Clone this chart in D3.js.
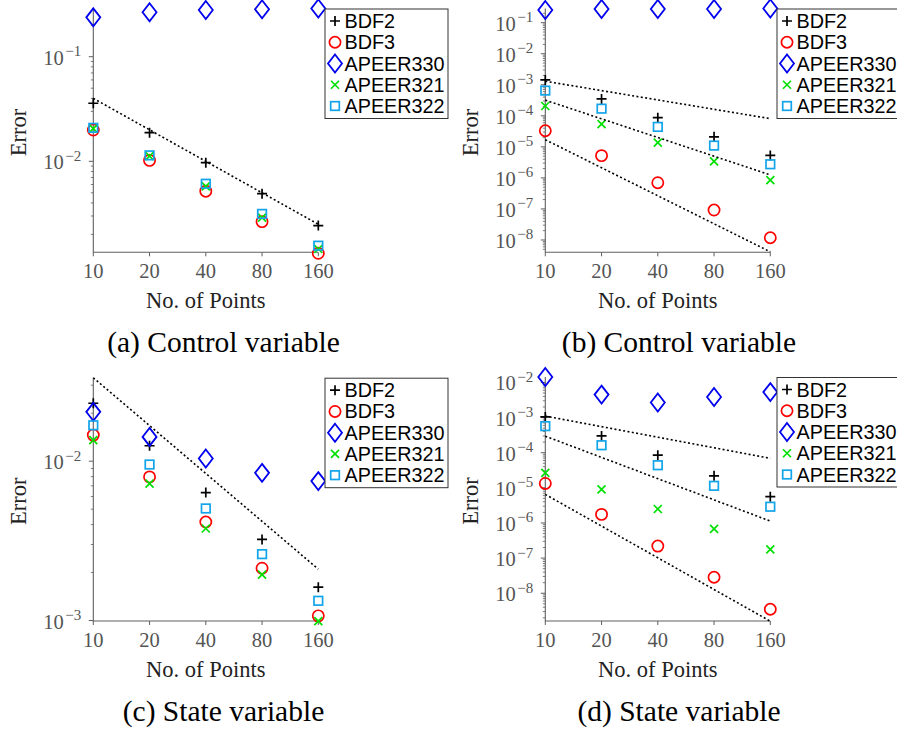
<!DOCTYPE html>
<html>
<head>
<meta charset="utf-8">
<script src="https://cdn.jsdelivr.net/npm/d3@7"></script>
<style>
  html, body { margin: 0; padding: 0; background: #fff; }
  svg { display: block; }
</style>
</head>
<body>
<svg id="chart" width="897" height="735"></svg>
<script>
// Number of grid points (shared x values)
const points = [10, 20, 40, 80, 160];
const xTickLabels = ["10", "20", "40", "80", "160"];
const seriesNames = ["BDF2", "BDF3", "APEER330", "APEER321", "APEER322"];

// (a) Control variable
const aBDF2     = [0.0359, 0.0188, 0.0097, 0.0049, 0.00243];
const aBDF3     = [0.0199, 0.0102, 0.00518, 0.00265, 0.00132];
const aAPEER330 = [0.238, 0.266, 0.28, 0.284, 0.289];
const aAPEER321 = [0.0205, 0.0112, 0.00575, 0.0029, 0.00145];
const aAPEER322 = [0.0209, 0.0114, 0.0061, 0.00314, 0.00156];
const aSlopes   = [[0.040, 0.0025]];            // error at N=10 and N=160

// (b) Control variable
const bBDF2     = [1.43e-3, 3.5e-4, 8.7e-5, 2.1e-5, 5.3e-6];
const bBDF3     = [3.3e-5, 5.2e-6, 7.0e-7, 9.2e-8, 1.18e-8];
const bAPEER330 = [0.257, 0.276, 0.276, 0.276, 0.286];
const bAPEER321 = [2.07e-4, 5.4e-5, 1.36e-5, 3.4e-6, 8.5e-7];
const bAPEER322 = [6.5e-4, 1.7e-4, 4.4e-5, 1.1e-5, 2.75e-6];
const bSlopes   = [[1.3e-3, 8.1e-5], [3.2e-4, 1.25e-6], [1.7e-5, 4.15e-9]];

// (c) State variable
const cBDF2     = [0.0231, 0.0125, 0.00635, 0.00323, 0.00162];
const cBDF3     = [0.01458, 0.00797, 0.00415, 0.00213, 0.00107];
const cAPEER330 = [0.0204, 0.0142, 0.0104, 0.00845, 0.0075];
const cAPEER321 = [0.01355, 0.00724, 0.00378, 0.00194, 0.00099];
const cAPEER322 = [0.0168, 0.00953, 0.00505, 0.00261, 0.00133];
const cSlopes   = [[0.0334, 0.0021]];

// (d) State variable
const dBDF2     = [1.04e-3, 3.0e-4, 8.5e-5, 2.2e-5, 5.6e-6];
const dBDF3     = [1.33e-5, 1.75e-6, 2.2e-7, 2.85e-8, 3.5e-9];
const dAPEER330 = [0.01426, 4.5e-3, 2.67e-3, 3.85e-3, 5.3e-3];
const dAPEER321 = [2.67e-5, 9.0e-6, 2.5e-6, 6.8e-7, 1.78e-7];
const dAPEER322 = [5.7e-4, 1.63e-4, 4.4e-5, 1.14e-5, 2.9e-6];
const dSlopes   = [[1.1e-3, 6.9e-5], [2.95e-4, 1.13e-6], [6.5e-6, 1.6e-9]];

const captions = ["(a) Control variable", "(b) Control variable", "(c) State variable", "(d) State variable"];

// Panel frames (pixel layout) and log-axis extents (log10 of ymin, ymax)
const panels = [
  { series: [aBDF2, aBDF3, aAPEER330, aAPEER321, aAPEER322], slopes: aSlopes,
    left: 93.3, top: 8.5, bottom: 252.3, logMin: -2.870, logMax: -0.539, capX: 223.5, capY: 352 },
  { series: [bBDF2, bBDF3, bAPEER330, bAPEER321, bAPEER322], slopes: bSlopes,
    left: 545.3, top: 8.5, bottom: 252.3, logMin: -8.397, logMax: -0.543, capX: 679, capY: 352 },
  { series: [cBDF2, cBDF3, cAPEER330, cAPEER321, cAPEER322], slopes: cSlopes,
    left: 93.3, top: 377.7, bottom: 621, logMin: -3.003, logMax: -1.476, capX: 223.5, capY: 720.7 },
  { series: [dBDF2, dBDF3, dAPEER330, dAPEER321, dAPEER322], slopes: dSlopes,
    left: 545.3, top: 377, bottom: 621, logMin: -8.79, logMax: -1.846, capX: 679, capY: 720.7 }
];
const plotWidth = 225;

const colors = { BDF2: "#000000", BDF3: "#ff0000", APEER330: "#0000ee", APEER321: "#00e000", APEER322: "#12a4ea" };
const serif = "'Liberation Serif', 'DejaVu Serif', serif";
const sans  = "'Liberation Sans', Arial, sans-serif";
const axisGray = "#606060";

// Marker painters, centred on (0,0)
function drawMarker(g, name) {
  const c = colors[name];
  if (name === "BDF2") {
    g.append("path").attr("d", "M-5,0H5M0,-5V5").attr("stroke", c).attr("stroke-width", 1.7).attr("fill", "none");
  } else if (name === "BDF3") {
    g.append("circle").attr("r", 5.6).attr("stroke", c).attr("stroke-width", 1.7).attr("fill", "none");
  } else if (name === "APEER330") {
    g.append("path").attr("d", "M0,-9L7,0L0,9L-7,0Z").attr("stroke", c).attr("stroke-width", 1.8).attr("fill", "none");
  } else if (name === "APEER321") {
    g.append("path").attr("d", "M-4,-4L4,4M-4,4L4,-4").attr("stroke", c).attr("stroke-width", 1.7).attr("fill", "none");
  } else {
    g.append("rect").attr("x", -4.3).attr("y", -4.3).attr("width", 8.6).attr("height", 8.6)
      .attr("stroke", c).attr("stroke-width", 1.7).attr("fill", "none");
  }
}

const svg = d3.select("#chart");

panels.forEach((p, i) => {
  const x = d3.scaleLog().domain([points[0], points[points.length - 1]]).range([p.left, p.left + plotWidth]);
  const y = d3.scaleLog().domain([Math.pow(10, p.logMin), Math.pow(10, p.logMax)]).range([p.bottom, p.top]);
  const g = svg.append("g");

  // y ticks: decades and minor 2..9 ticks
  const decades = d3.range(Math.ceil(p.logMin), Math.floor(p.logMax) + 1);
  const minor = [];
  d3.range(Math.floor(p.logMin), Math.ceil(p.logMax) + 1).forEach(e => {
    for (let k = 2; k <= 9; k++) {
      const v = k * Math.pow(10, e);
      if (Math.log10(v) >= p.logMin && Math.log10(v) <= p.logMax) minor.push(v);
    }
  });
  g.selectAll(".minor").data(minor).join("line")
    .attr("x1", p.left - 2.5).attr("x2", p.left)
    .attr("y1", d => y(d)).attr("y2", d => y(d))
    .attr("stroke", axisGray).attr("stroke-width", 0.8);
  g.selectAll(".major").data(decades).join("line")
    .attr("x1", p.left - 4.5).attr("x2", p.left)
    .attr("y1", d => y(Math.pow(10, d))).attr("y2", d => y(Math.pow(10, d)))
    .attr("stroke", axisGray).attr("stroke-width", 1);
  decades.forEach(e => {
    const t = g.append("text")
      .attr("x", p.left - 12).attr("y", y(Math.pow(10, e)) + 8)
      .attr("text-anchor", "end").attr("fill", "#555")
      .style("font-family", serif);
    t.append("tspan").attr("font-size", 20.5).text("10");
    t.append("tspan").attr("font-size", 15).attr("dy", -8.5).attr("dx", 1.5).text("\u2212" + Math.abs(e));
  });

  // x ticks
  g.selectAll(".xt").data(points).join("line")
    .attr("x1", d => x(d)).attr("x2", d => x(d))
    .attr("y1", p.bottom).attr("y2", p.bottom + 4)
    .attr("stroke", axisGray).attr("stroke-width", 1);
  g.selectAll(".xl").data(points).join("text")
    .attr("x", d => x(d)).attr("y", p.bottom + 25.7)
    .attr("text-anchor", "middle").attr("fill", "#555")
    .attr("font-size", 20.5).style("font-family", serif)
    .text((d, j) => xTickLabels[j]);

  // axis lines
  g.append("path")
    .attr("d", `M${p.left},${p.top}V${p.bottom}H${p.left + plotWidth}`)
    .attr("stroke", axisGray).attr("stroke-width", 1.1).attr("fill", "none");

  // axis titles
  g.append("text")
    .attr("x", p.left + plotWidth / 2).attr("y", p.bottom + 55.7)
    .attr("text-anchor", "middle").attr("fill", "#222")
    .attr("font-size", 22.5).style("font-family", serif)
    .text("No. of Points");
  const ly = (p.top + p.bottom) / 2 + 2;
  g.append("text")
    .attr("transform", `translate(${p.left - 67.5},${ly}) rotate(-90)`)
    .attr("text-anchor", "middle").attr("fill", "#222")
    .attr("font-size", 22.5).style("font-family", serif)
    .text("Error");

  // markers
  p.series.forEach((vals, s) => {
    const name = seriesNames[s];
    vals.forEach((v, j) => {
      const m = g.append("g").attr("transform", `translate(${x(points[j])},${y(v)})`);
      drawMarker(m, name);
    });
  });

  // reference slope lines
  const line = d3.line().x(d => x(d[0])).y(d => y(d[1]));
  p.slopes.forEach(s => {
    g.append("path")
      .attr("d", line([[points[0], s[0]], [points[points.length - 1], s[1]]]))
      .attr("stroke", "#000").attr("stroke-width", 1.6)
      .attr("stroke-dasharray", "2,2.4").attr("fill", "none");
  });

  // legend
  const lx = p.left + plotWidth + 6.7;
  const lt = p.top + 0.5;
  const lg = g.append("g");
  lg.append("rect").attr("x", lx).attr("y", lt).attr("width", 123).attr("height", 109.5)
    .attr("fill", "#fff").attr("stroke", "#333").attr("stroke-width", 1);
  seriesNames.forEach((name, k) => {
    const cy = lt + 12 + k * 21.25;
    const m = lg.append("g").attr("transform", `translate(${lx + 10},${cy})`);
    drawMarker(m, name);
    lg.append("text").attr("x", lx + 19.5).attr("y", cy + 7)
      .attr("font-size", 19.8).attr("fill", "#000").style("font-family", sans)
      .text(name);
  });

  // caption
  svg.append("text")
    .attr("x", p.capX).attr("y", p.capY)
    .attr("text-anchor", "middle").attr("fill", "#000")
    .attr("font-size", 29.5).style("font-family", serif)
    .text(captions[i]);
});
</script>
</body>
</html>
